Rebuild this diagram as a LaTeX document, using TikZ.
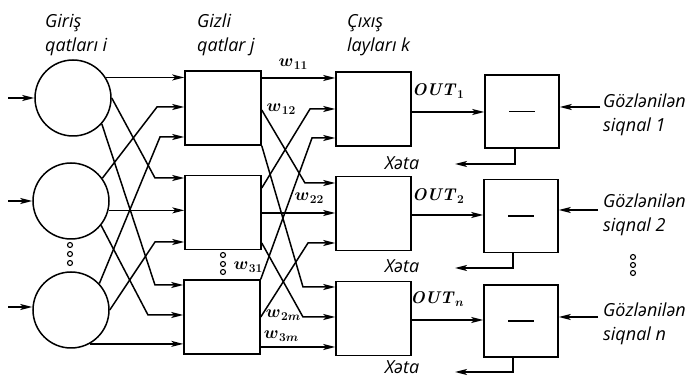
\documentclass[tikz,border=0pt]{standalone}
\usepackage[no-math]{fontspec}
\newfontfamily\labfont{Open Sans}
\usetikzlibrary{arrows.meta,calc}
\newcommand{\wsub}[2]{$#1$\kern0.5pt\raisebox{-0.45ex}{\fontsize{13}{13}\selectfont$#2$}}
\newcommand{\outsub}[1]{\textit{OUT}\kern0.5pt\raisebox{-0.45ex}{\fontsize{12}{12}\selectfont$#1$}}
\begin{document}
\begin{tikzpicture}[x=1pt,y=-1pt,
  ln/.style={line width=1.5pt},
  arr/.style={ln,-{Stealth[length=12pt,width=6pt,inset=3pt]}},
  neuron/.style={circle,draw,ln,minimum size=76pt,inner sep=0pt},
  unit/.style={rectangle,draw,ln,minimum width=76pt,minimum height=74pt,inner sep=0pt},
  dotc/.style={circle,draw,line width=1.1pt,inner sep=0pt,minimum size=5pt},
  lab/.style={font=\labfont\itshape\fontsize{18}{24.5}\selectfont,align=left,anchor=west,inner sep=0pt},
  wl/.style={font=\fontsize{17}{17}\selectfont\bfseries\boldmath,inner sep=0pt},
  ol/.style={font=\fontsize{17}{17}\selectfont\bfseries\boldmath,inner sep=0pt},
]
\useasboundingbox (0,0) rectangle (697,379);
% input neurons
\node[neuron] (c1) at (73,98) {};
\node[neuron] (c2) at (71,201) {};
\node[neuron] (c3) at (71,310) {};
% hidden units
\node[unit] (j1) at (223,108) {};
\node[unit] (j2) at (223,212.5) {};
\node[unit] (j3) at (222,317) {};
% output units
\node[unit,minimum width=75pt] (k1) at (373.5,109) {};
\node[unit,minimum width=75pt] (k2) at (373.5,213.5) {};
\node[unit,minimum width=75pt] (k3) at (373.5,318.5) {};
% comparators
\node[unit,minimum width=74pt,minimum height=73pt] (m1) at (522,111.5) {};
\node[unit,minimum width=74pt,minimum height=73pt] (m2) at (521,216) {};
\node[unit,minimum width=74pt,minimum height=72pt] (m3) at (521,321) {};
\foreach \m in {m1,m2,m3}
  \draw[ln] ([xshift=-13pt]\m.center) -- ([xshift=13pt]\m.center);
% inputs
\coordinate (i1) at (8,98);
\coordinate (i2) at (8,201);
\coordinate (i3) at (8,307);
\draw[arr] (i1) -- (c1.west);
\draw[arr] (i2) -- (c2.west);
\draw[arr] (i3) -- (c3.west |- i3);
% input -> hidden
\coordinate (a12) at (155,178);
\coordinate (a13) at (155,285);
\coordinate (a21) at (157,107);
\coordinate (a23) at (148,315);
\coordinate (a31) at (160,137);
\coordinate (a32) at (155,242);
\draw[arr] (c1.32) -- (c1.32 -| j1.west);
\draw[arr] (c1.east) -- (a12) -- (a12 -| j2.west);
\draw[arr] (c1.-42) -- (a13) -- (a13 -| j3.west);
\draw[arr] (c2.36) -- (a21) -- (a21 -| j1.west);
\draw[arr] (c2.-14) -- (c2.-14 -| j2.west);
\draw[arr] (c2.-39) -- (a23) -- (a23 -| j3.west);
\draw[arr] (c3.43) -- (a31) -- (a31 -| j1.west);
\draw[arr] (c3.east) -- (a32) -- (a32 -| j2.west);
\draw[arr] (c3.-61) -- (c3.-61 -| j3.west);
% hidden -> output
\coordinate (b12) at (305,183);
\coordinate (b13) at (303,287);
\coordinate (b21) at (310,109);
\coordinate (b23) at (303,317);
\coordinate (b31) at (312,138);
\coordinate (b32) at (308,243);
\draw[arr] (j1.east |- 0,78) -- (k1.west |- 0,78);
\draw[arr] (j1.east |- 0,110) -- (b12) -- (b12 -| k2.west);
\draw[arr] (j1.south east) -- (b13) -- (b13 -| k3.west);
\draw[arr] (j2.east |- 0,188) -- (b21) -- (b21 -| k1.west);
\draw[arr] (j2.east |- 0,213) -- (k2.west |- 0,213);
\draw[arr] (j2.east |- 0,243) -- (b23) -- (b23 -| k3.west);
\draw[arr] (j3.north east) -- (b31) -- (b31 -| k1.west);
\draw[arr] (j3.east |- 0,317) -- (b32) -- (b32 -| k2.west);
\draw[arr] (j3.east |- 0,347) -- (k3.west |- 0,347);
% output -> comparator
\draw[arr] (k1.east |- 0,112) -- (m1.west |- 0,112);
\draw[arr] (k2.east |- 0,215) -- (m2.west |- 0,215);
\draw[arr] (k3.east |- 0,320) -- (m3.west |- 0,320);
% expected signals
\coordinate (s1) at (600,107);
\coordinate (s2) at (598,210);
\coordinate (s3) at (598,317);
\draw[arr] (s1) -- (s1 -| m1.east);
\draw[arr] (s2) -- (s2 -| m2.east);
\draw[arr] (s3) -- (s3 -| m3.east);
% errors
\coordinate (e1) at (455,164);
\coordinate (e2) at (455,268);
\coordinate (e3) at (455,372);
\draw[arr] ([xshift=-7pt]m1.south) |- (e1);
\draw[arr] ([xshift=-8pt]m2.south) |- (e2);
\draw[arr] ([xshift=-8pt]m3.south) |- (e3);
% dots
\foreach \y in {245,254,263} \node[dotc] at (70,\y) {};
\foreach \y in {255,264,272} \node[dotc] at (223,\y) {};
\foreach \y in {257,265,273} \node[dotc] at (633,\y) {};
% headers
\node[lab] (hin) at (45,35) {Giriş\\qatları i};
\node[lab] (hhid) at (197,35) {Gizli\\qatlar j};
\node[lab] (hout) at (347,35) {Çıxış\\layları k};
\node[lab] (g1) at (603,115) {Gözlənilən\\siqnal 1};
\node[lab] (g2) at (603,215) {Gözlənilən\\siqnal 2};
\node[lab] (g3) at (603,324) {Gözlənilən\\siqnal n};
\node[lab,anchor=center] (x1) at (402,163) {Xəta};
\node[lab,anchor=center] (x2) at (402,266) {Xəta};
\node[lab,anchor=center] (x3) at (402,367) {Xəta};
% weights
\node[wl] (w11) at (293,64) {\wsub{w}{11}};
\node[wl] (w12) at (281,109) {\wsub{w}{12}};
\node[wl] (w22) at (309,198) {\wsub{w}{22}};
\node[wl] (w31) at (248,267) {\wsub{w}{31}};
\node[wl] (w2m) at (283,315) {\wsub{w}{2m}};
\node[wl] (w3m) at (281,336) {\wsub{w}{3m}};
\node[ol] (o1) at (438,91) {\outsub{1}};
\node[ol] (o2) at (438,196) {\outsub{2}};
\node[ol] (o3) at (437,299) {\outsub{n}};
\end{tikzpicture}
\end{document}
